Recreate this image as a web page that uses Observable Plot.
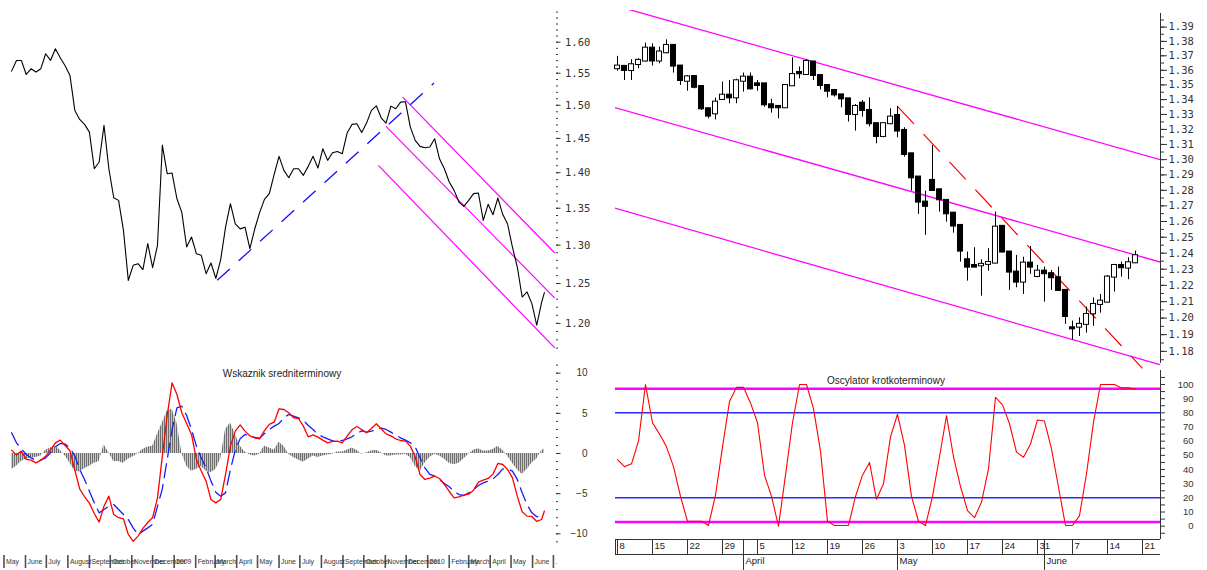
<!DOCTYPE html>
<html><head><meta charset="utf-8">
<script src="https://cdn.jsdelivr.net/npm/d3@7"></script>
<script src="https://cdn.jsdelivr.net/npm/@observablehq/plot@0.6"></script>
<style>
body{margin:0;background:#fff;}
#wrap{position:relative;width:1207px;height:570px;overflow:hidden;background:#fff;font-family:"Liberation Sans",Arial,sans-serif;}
#wrap svg{position:absolute;}
.ttl{position:absolute;font-size:10px;color:#222;white-space:nowrap;transform:translate(-50%,-50%);font-family:"Liberation Sans",Arial,sans-serif;}
</style></head>
<body><div id="wrap"></div>
<script>
// ---------- LEFT PANELS (weekly readings, May 2008 - June 2010) ----------
const weekStart = new Date(Date.UTC(2008, 4, 12));
const lastDate = new Date(Date.UTC(2010, 5, 18));
const leftPrice = [
1.5533,1.5704,1.5704,1.5480,1.5570,1.5518,1.5570,1.5811,1.5704,1.5892,
1.5747,1.5618,1.5465,1.4921,1.4784,1.4709,1.4594,1.4057,1.4154,1.4694,
1.4057,1.3646,1.3609,1.3198,1.2540,1.2734,1.2756,1.2678,1.3020,1.2703,
1.2998,1.4400,1.3986,1.3995,1.3632,1.3443,1.2975,1.3109,1.2887,1.2865,
1.2626,1.2765,1.2566,1.2809,1.3241,1.3563,1.3287,1.3218,1.3241,1.2953,
1.3216,1.3439,1.3623,1.3703,1.3976,1.4236,1.4033,1.3928,1.4057,1.4057,
1.3962,1.4091,1.4236,1.4067,1.4347,1.4178,1.4289,1.4308,1.4274,1.4579,
1.4709,1.4719,1.4589,1.4729,1.4921,1.4992,1.4809,1.4729,1.4987,1.4946,
1.5048,1.5053,1.4669,1.4470,1.4382,1.4362,1.4372,1.4495,1.4201,1.4057,
1.3867,1.3749,1.3586,1.3526,1.3609,1.3703,1.3712,1.3334,1.3554,1.3411,
1.3642,1.3416,1.3284,1.2975,1.2712,1.2328,1.2392,1.2245,1.1977,1.2260,
1.2384];
const macdLine = [
0.42,-0.2,0.3,-0.74,-0.83,-1.16,-0.83,-0.33,0.42,1.33,
1.66,1.0,0.34,-2.07,-4.4,-5.39,-6.18,-7.47,-8.55,-6.56,
-5.31,-7.6,-8.0,-8.13,-10.08,-10.95,-10.29,-9.33,-8.59,-7.97,
-5.52,-0.33,4.74,8.8,7.35,5.07,3.74,2.37,-0.74,-2.19,
-3.44,-5.73,-6.15,-5.73,-2.61,0.92,2.79,3.57,2.79,2.2,
1.95,1.83,2.86,3.62,3.9,5.57,5.48,5.07,4.45,4.36,
3.41,2.08,2.33,2.04,1.66,1.33,1.5,1.54,1.33,2.16,
2.95,3.37,2.99,2.58,3.12,3.7,3.08,2.45,2.2,1.83,
1.62,1.54,0.92,-0.41,-2.61,-3.23,-3.07,-2.82,-3.11,-3.86,
-4.73,-5.52,-5.39,-5.19,-5.07,-4.57,-3.57,-3.32,-3.11,-2.57,
-1.24,-1.37,-1.99,-3.03,-5.31,-7.26,-7.8,-7.84,-8.46,-8.22,
-7.17];
const signalLine = [
2.58,1.33,0.59,-0.12,-0.54,-0.87,-0.83,-0.54,0.09,0.83,
1.25,1.17,0.71,-0.33,-1.99,-3.23,-4.69,-6.14,-7.39,-6.98,
-6.56,-6.35,-6.98,-7.6,-8.22,-9.26,-10.1,-9.67,-9.26,-8.83,
-6.56,-4.4,-0.74,2.99,5.69,5.89,4.74,2.99,0.92,-0.54,
-1.79,-3.44,-4.82,-5.31,-4.9,-1.99,0.42,1.83,2.37,2.24,
1.99,1.91,2.49,2.99,3.41,3.74,4.45,4.86,4.65,4.45,
4.15,3.49,2.99,2.37,2.08,1.83,1.58,1.54,1.62,1.83,
2.08,2.49,2.82,2.66,2.78,2.99,3.16,2.99,2.66,2.29,
1.95,1.66,1.33,0.83,-0.54,-1.79,-2.61,-2.82,-3.23,-3.73,
-4.15,-4.69,-5.11,-5.23,-4.9,-4.49,-3.99,-3.66,-3.44,-3.16,
-2.61,-1.91,-1.91,-2.2,-3.23,-4.9,-6.35,-7.39,-7.89,-7.8,
-7.8];
const histogram = [
-2.0,-1.6,-1.0,-0.7,-0.6,-0.5,-0.3,0.4,0.7,0.9,
0.4,-0.3,-1.2,-2.2,-2.3,-1.9,-1.6,-1.2,-1.0,1.1,
0.1,-1.0,-1.0,-1.2,-0.7,-0.4,0,0.5,0.8,0.9,
2.4,3.8,5.3,5.5,3.8,0.1,-1.6,-2.2,-2.0,-1.6,
-2.2,-2.4,-2.0,-0.7,3.0,3.8,2.4,0.9,0.2,-0.2,
-0.3,-0.1,0.9,0.7,0.4,1.4,0.9,-0.1,-0.5,-0.8,
-1.1,-0.7,-0.3,-0.5,-0.3,-0.2,-0.1,0.2,0.2,0.4,
0.7,0.4,-0.1,0.1,0.3,0.4,0.1,-0.3,-0.3,-0.2,
-0.2,-0.1,-0.5,-1.6,-2.2,-1.2,-0.5,-0.1,-0.3,-0.7,
-1.2,-1.4,-1.2,-0.7,-0.1,0.4,0.6,0.3,0.3,0.5,
0.9,0.4,-0.3,-1.2,-2.0,-2.6,-2.0,-1.2,-0.7,0.3,
0.6];
const leftMonthLabels = ["May","June","July","August","September","October","November","December","2009","February","March","April","May","June","July","August","September","October","November","December","2010","February","March","April","May","June","."];
// trend lines on the long-term chart
const trendStart = ["2009-03-04", 1.2540], trendEnd = ["2010-01-10", 1.5344];
const leftChanStartDates = ["2009-11-26","2009-11-02","2009-10-22"];
const leftChanStartVals = [1.5126, 1.4679, 1.4105];
const leftChanEndDate = "2010-07-03";
const leftChanEndVals = [1.2896, 1.2315, 1.1702];

// ---------- RIGHT PANELS (daily, 8 March - 18 June 2010) ----------
const openP = [1.3611,1.3627,1.3599,1.3640,1.3664,1.3753,1.3664,1.3721,1.3772,1.3629,
1.3525,1.3557,1.3489,1.3338,1.3304,1.3401,1.3430,1.3412,1.3525,1.3553,
1.3507,1.3507,1.3365,1.3354,1.3345,1.3494,1.3585,1.3571,1.3657,1.3564,
1.3496,1.3462,1.3432,1.3405,1.3300,1.3376,1.3327,1.3238,1.3153,1.3238,
1.3293,1.3193,1.3038,1.2886,1.2724,1.2864,1.2803,1.2735,1.2653,1.2575,
1.2359,1.2323,1.2321,1.2330,1.2338,1.2569,1.2407,1.2282,1.2220,1.2338,
1.2255,1.2288,1.2272,1.2247,1.2169,1.1941,1.1945,1.1962,1.2026,1.2083,
1.2097,1.2251,1.2323,1.2307,1.2340];
const highP = [1.3696,1.3627,1.3673,1.3680,1.3788,1.3783,1.3760,1.3811,1.3772,1.3629,
1.3564,1.3564,1.3489,1.3345,1.3410,1.3519,1.3530,1.3539,1.3581,1.3581,
1.3530,1.3507,1.3403,1.3360,1.3496,1.3686,1.3622,1.3673,1.3661,1.3564,
1.3496,1.3462,1.3432,1.3405,1.3367,1.3394,1.3412,1.3238,1.3242,1.3338,
1.3354,1.3211,1.3038,1.2886,1.2795,1.3093,1.2810,1.2739,1.2658,1.2575,
1.2407,1.2434,1.2359,1.2428,1.2660,1.2573,1.2407,1.2386,1.2375,1.2442,
1.2323,1.2313,1.2292,1.2313,1.2169,1.1982,1.2002,1.2067,1.2123,1.2144,
1.2261,1.2330,1.2344,1.2371,1.2413];
const lowP = [1.3594,1.3530,1.3530,1.3611,1.3657,1.3629,1.3645,1.3714,1.3581,1.3496,
1.3457,1.3473,1.3327,1.3271,1.3264,1.3399,1.3372,1.3372,1.3451,1.3466,
1.3457,1.3349,1.3309,1.3271,1.3345,1.3489,1.3541,1.3564,1.3530,1.3466,
1.3412,1.3417,1.3345,1.3249,1.3189,1.3282,1.3216,1.3104,1.3144,1.3231,
1.3144,1.3016,1.2795,1.2645,1.2512,1.2799,1.2660,1.2596,1.2526,1.2344,
1.2226,1.2313,1.2134,1.2288,1.2334,1.2403,1.2169,1.2185,1.2144,1.2268,
1.2247,1.2097,1.2169,1.2165,1.1962,1.1869,1.1889,1.1909,1.1950,1.2030,
1.2091,1.2159,1.2251,1.2235,1.2334];
const closeP = [1.3629,1.3599,1.3638,1.3668,1.3753,1.3664,1.3726,1.3772,1.3629,1.3530,
1.3555,1.3484,1.3338,1.3289,1.3383,1.3430,1.3412,1.3528,1.3553,1.3473,
1.3496,1.3365,1.3345,1.3345,1.3496,1.3571,1.3576,1.3661,1.3564,1.3496,
1.3457,1.3432,1.3405,1.3300,1.3354,1.3327,1.3238,1.3153,1.3238,1.3282,
1.3189,1.3034,1.2881,1.2724,1.2697,1.2799,1.2739,1.2649,1.2571,1.2413,
1.2313,1.2313,1.2330,1.2342,1.2564,1.2407,1.2282,1.2220,1.2338,1.2313,
1.2288,1.2272,1.2247,1.2169,1.2010,1.1935,1.1962,1.2022,1.2083,1.2103,
1.2251,1.2323,1.2309,1.2340,1.2384];
const stochastic = [47,42,44,60,100,73,65,56,42,21,
3.5,3.5,3.5,0.5,22,56,88,98,98,87,
73,36,21,0,36,73,100,100,83,53,
3.5,0.5,0.5,0.5,21,36,45,19,30,63,
79,57,21,3.5,0.5,21,49,78,49,28,
11,6,17,40.5,91,85.6,72.3,52.3,48.7,58,
75,74.2,54.6,27.5,0.5,0.5,7.5,37,73.4,100,
100,100,97.6,97.6,96.7];
const weekTickIdx = [0,5,10,15,20,25,30,35,40,45,50,55,60,65,70,75];
const weekTickLabels = ["8","15","22","29","5","12","19","26","3","10","17","24","31","7","14","21"];
const monthTickIdx = [18,40,61];
const monthTickLabels = ["April","May","June"];
// channel lines on the short-term chart: [index, price] start / end
const rightChanStart = [[-0.57,1.4055],[-0.57,1.3349],[-0.57,1.2688]];
const rightChanEnd = [[77.57,1.2999],[77.57,1.2344],[77.57,1.1720]];
const redDash = [[40,1.3354],[75,1.1699]];

// ---------- build ----------
const wrap = document.getElementById("wrap");
const place = (svg, l, t) => { svg.style.left = l + "px"; svg.style.top = t + "px"; svg.style.overflow = "visible"; wrap.appendChild(svg); };
const P = s => new Date(s + "T00:00:00Z");

const leftDates = leftPrice.map((_, i) => i < leftPrice.length - 1 ? d3.utcDay.offset(weekStart, 7 * i) : lastDate);
const leftData = leftDates.map((d, i) => ({date: d, price: leftPrice[i], macd: macdLine[i], signal: signalLine[i], hist: histogram[i]}));
const leftMonthDates = d3.utcMonth.range(new Date(Date.UTC(2008,4,1)), new Date(Date.UTC(2010,6,2)));
const xLeft = {type: "utc", domain: [new Date(Date.UTC(2008,3,26)), new Date(Date.UTC(2010,6,4))], axis: null};

const leftChan = leftChanStartDates.map((d, i) => ({x1: P(d), y1: leftChanStartVals[i], x2: P(leftChanEndDate), y2: leftChanEndVals[i]}));
const trend = [{x1: P(trendStart[0]), y1: trendStart[1], x2: P(trendEnd[0]), y2: trendEnd[1]}];

const plotA = Plot.plot({
  width: 600, height: 360, marginLeft: 0, marginRight: 45, marginTop: 10, marginBottom: 5,
  x: xLeft,
  y: {type: "log", domain: [1.1612, 1.6527], axis: null},
  style: {background: "transparent", fontFamily: "DejaVu Sans Mono", fontSize: "10.5px", color: "#333"},
  marks: [
    Plot.axisY(d3.range(117, 166).map(d => d / 100), {anchor: "right", tickSize: 2, tickFormat: () => ""}),
    Plot.axisY(d3.range(120, 161, 5).map(d => d / 100), {anchor: "right", tickSize: 4.5, tickPadding: 5, tickFormat: d3.format(".2f"), fontFamily: "DejaVu Sans Mono", fontSize: 10.5}),
    Plot.link(leftChan, {x1: "x1", y1: "y1", x2: "x2", y2: "y2", stroke: "#ff00ff", strokeWidth: 1.2}),
    Plot.link(trend, {x1: "x1", y1: "y1", x2: "x2", y2: "y2", stroke: "#1010ff", strokeWidth: 1.3, strokeDasharray: "17,12"}),
    Plot.line(leftData, {x: "date", y: "price", stroke: "black", strokeWidth: 1.1})
  ]
});
place(plotA, 0, 0);

const plotB = Plot.plot({
  width: 600, height: 210, marginLeft: 0, marginRight: 45, marginTop: 2.26, marginBottom: 23.05,
  x: xLeft,
  y: {domain: [-11.7, 11.3], axis: null},
  style: {background: "transparent", fontFamily: "Liberation Sans", fontSize: "10px", color: "#333"},
  marks: [
    Plot.areaY(leftData, {x: "date", y: "hist", fill: "url(#comb)"}),
    Plot.line(leftData, {x: "date", y: "signal", stroke: "#1a1aff", strokeWidth: 1.3, strokeDasharray: "14,7"}),
    Plot.line(leftData, {x: "date", y: "macd", stroke: "#ff0000", strokeWidth: 1.3}),
    Plot.axisY(d3.range(-11, 12), {anchor: "right", tickSize: 2, tickFormat: () => ""}),
    Plot.axisY([-10, -5, 0, 5, 10], {anchor: "right", tickSize: 4.5, tickPadding: 27.5, textAnchor: "end", fontSize: 10}),
    Plot.ruleX(leftMonthDates, {x: d => d, y1: -12.7, y2: -14.32, stroke: "#505050", strokeWidth: 1.6}),
    Plot.text(leftMonthDates, {x: d => d, y: -13.51, text: (d, i) => leftMonthLabels[i], textAnchor: "start", dx: 2, fontSize: 6.8, fill: "#333"})
  ]
});
// comb-like stripe fill for the histogram
const defs = document.createElementNS("http://www.w3.org/2000/svg", "defs");
defs.innerHTML = '<pattern id="comb" patternUnits="userSpaceOnUse" width="2" height="4"><rect x="0" y="0" width="1.3" height="4" fill="#6e6e6e"/><rect x="1.3" y="0" width="0.7" height="4" fill="#c4c4c4"/></pattern>';
plotB.insertBefore(defs, plotB.firstChild);
place(plotB, 0, 360);

const candles = openP.map((o, i) => ({i, open: o, high: highP[i], low: lowP[i], close: closeP[i]}));
const rightChan = rightChanStart.map((s, i) => ({x1: s[0], y1: s[1], x2: rightChanEnd[i][0], y2: rightChanEnd[i][1]}));
const redLink = [{x1: redDash[0][0], y1: redDash[0][1], x2: redDash[1][0], y2: redDash[1][1]}];
const xRight = {domain: [-2 / 7, 543 / 7], axis: null};

const plotC = Plot.plot({
  width: 607, height: 372, marginLeft: 15, marginRight: 47, marginTop: 10, marginBottom: 7,
  x: xRight,
  y: {type: "log", domain: [1.1716, 1.4017], axis: null},
  style: {background: "transparent", fontFamily: "DejaVu Sans Mono", fontSize: "10.5px", color: "#333"},
  marks: [
    Plot.link(rightChan, {x1: "x1", y1: "y1", x2: "x2", y2: "y2", stroke: "#ff00ff", strokeWidth: 1.3, clip: true}),
    Plot.link(redLink, {x1: "x1", y1: "y1", x2: "x2", y2: "y2", stroke: "#ff0000", strokeWidth: 1.2, strokeDasharray: "24,14"}),
    Plot.ruleX(candles, {x: "i", y1: "low", y2: "high", stroke: "black", strokeWidth: 1}),
    Plot.rect(candles, {filter: d => d.close < d.open, x1: d => d.i - 0.36, x2: d => d.i + 0.36, y1: "open", y2: "close", fill: "black", stroke: "black", strokeWidth: 1, insetTop: -0.5, insetBottom: -0.5}),
    Plot.rect(candles, {filter: d => d.close >= d.open, x1: d => d.i - 0.36, x2: d => d.i + 0.36, y1: "open", y2: "close", fill: "white", stroke: "black", strokeWidth: 1, insetTop: -0.5, insetBottom: -0.5}),
    Plot.ruleX([543 / 7], {y1: 1.1728, y2: 1.3996, stroke: "#333"}),
    Plot.axisY(d3.range(1175, 1400, 5).map(d => d / 1000), {anchor: "right", tickSize: 3, tickFormat: () => ""}),
    Plot.axisY(d3.range(118, 140).map(d => d / 100), {anchor: "right", tickSize: 6, tickPadding: 2, tickFormat: d3.format(".2f"), fontFamily: "DejaVu Sans Mono", fontSize: 10.5})
  ]
});
place(plotC, 600, 0);

const plotD = Plot.plot({
  width: 607, height: 200, marginLeft: 15, marginRight: 47, marginTop: 0, marginBottom: 31,
  x: xRight,
  y: {domain: [-9.39, 109.88], axis: null},
  style: {background: "transparent", fontFamily: "Liberation Sans", fontSize: "9.5px", color: "#333"},
  marks: [
    Plot.ruleY([97, 3], {stroke: "#ff00ff", strokeWidth: 2.5}),
    Plot.ruleY([80, 20], {stroke: "#2a2aff", strokeWidth: 1.5}),
    Plot.line(stochastic, {x: (d, i) => i, y: d => d, stroke: "#ff0000", strokeWidth: 1.1}),
    Plot.ruleX([543 / 7], {y1: -9.39, y2: 109.88, stroke: "#333"}),
    Plot.axisY(d3.range(-5, 110, 5), {anchor: "right", tickSize: 4, tickFormat: () => ""}),
    Plot.axisY(d3.range(0, 101, 10), {anchor: "right", tickSize: 0, tickPadding: 33, textAnchor: "end", fontSize: 9.5}),
    Plot.ruleY([-9.39, -19.97], {stroke: "#333", strokeWidth: 1}),
    Plot.ruleX([-2 / 7], {y1: -9.39, y2: -19.97, stroke: "#333"}),
    Plot.ruleX(weekTickIdx, {x: d => d, y1: -9.39, y2: -19.97, stroke: "#333"}),
    Plot.ruleX(monthTickIdx, {x: d => d, y1: -9.39, y2: -31.26, stroke: "#333"}),
    Plot.text(weekTickIdx, {x: d => d, y: -13.62, text: (d, i) => weekTickLabels[i], textAnchor: "start", dx: 2, fontSize: 9.5, fill: "#222"}),
    Plot.text(monthTickIdx, {x: d => d, y: -24.56, text: (d, i) => monthTickLabels[i], textAnchor: "start", dx: 2, fontSize: 9.5, fill: "#222"})
  ]
});
place(plotD, 600, 370);

function title(txt, cx, cy) {
  const d = document.createElement("div");
  d.className = "ttl"; d.textContent = txt;
  d.style.left = cx + "px"; d.style.top = cy + "px";
  wrap.appendChild(d);
}
title("Wskaznik sredniterminowy", 282, 372.5);
title("Oscylator krotkoterminowy", 886, 379.5);
</script>
</body></html>
